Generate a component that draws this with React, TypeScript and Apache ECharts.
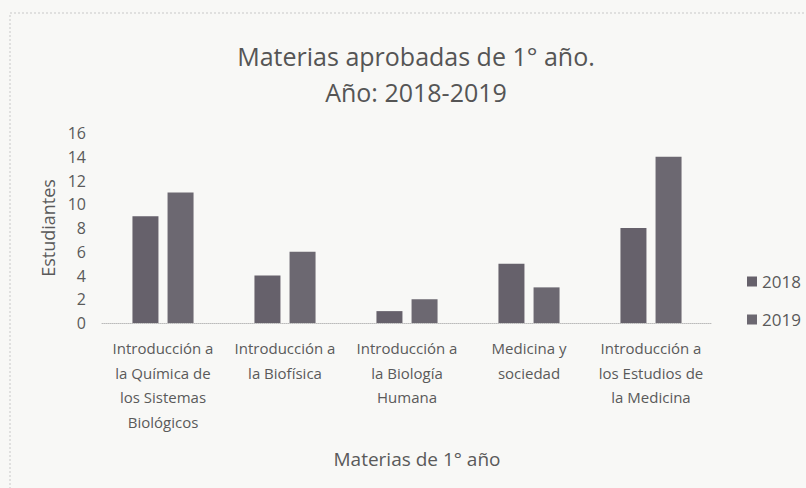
import React, { useEffect, useRef } from "react";
import * as echarts from "echarts";

const categories = [
  "Introducción a\nla Química de\nlos Sistemas\nBiológicos",
  "Introducción a\nla Biofísica",
  "Introducción a\nla Biología\nHumana",
  "Medicina y\nsociedad",
  "Introducción a\nlos Estudios de\nla Medicina",
];
const values2018 = [9, 4, 1, 5, 8];
const values2019 = [11, 6, 2, 3, 14];
const seriesNames = ["2018", "2019"];
const titleLines = ["Materias aprobadas de 1° año.", "Año: 2018-2019"];
const xAxisName = "Materias de 1° año";
const yAxisName = "Estudiantes";

const FONT = "'Open Sans', Lato, sans-serif";
const TEXT = "#5a5a5a";

export default function App() {
  const ref = useRef<HTMLDivElement>(null);
  useEffect(() => {
    if (!ref.current) return;
    const chart = echarts.init(ref.current, null, { renderer: "svg" });
    chart.setOption({
      animation: false,
      backgroundColor: "#f8f8f6",
      textStyle: { fontFamily: FONT, color: TEXT },
      title: {
        text: titleLines.join("\n"),
        left: 411,
        textAlign: "center",
        top: 33,
        textStyle: { fontSize: 25, fontWeight: "normal", color: "#555", lineHeight: 36, fontFamily: FONT },
      },
      legend: {
        orient: "vertical",
        left: 742,
        top: 268,
        itemWidth: 10,
        itemHeight: 10,
        itemGap: 21,
        icon: "rect",
        textStyle: { fontSize: 17, color: TEXT, fontFamily: FONT },
        data: seriesNames,
      },
      grid: { left: 102, right: 94, top: 133, bottom: 165, containLabel: false },
      xAxis: {
        type: "category",
        data: categories,
        name: xAxisName,
        nameLocation: "middle",
        nameGap: 126,
        nameTextStyle: { fontSize: 19, color: TEXT, fontFamily: FONT, padding: [0, 0, 0, 20] },
        axisLine: { lineStyle: { color: "#bbb", type: "dotted", width: 1 } },
        axisTick: { show: false },
        axisLabel: { fontSize: 15, lineHeight: 24.5, margin: 13, color: TEXT, interval: 0, fontFamily: FONT },
      },
      yAxis: {
        type: "value",
        min: 0,
        max: 16,
        interval: 2,
        name: yAxisName,
        nameLocation: "middle",
        nameRotate: 90,
        nameGap: 37,
        nameTextStyle: { fontSize: 18, color: TEXT, fontFamily: FONT },
        axisLine: { show: false },
        axisTick: { show: false },
        splitLine: { show: false },
        axisLabel: { fontSize: 16, color: TEXT, margin: 16, fontFamily: FONT },
      },
      graphic: [
        {
          type: "rect",
          shape: { x: 10, y: 13, width: 820, height: 500 },
          style: { fill: "none", stroke: "#c8c8c8", lineWidth: 1, lineDash: [2, 2] },
          silent: true,
        },
      ],
      series: [
        {
          name: seriesNames[0],
          type: "bar",
          data: values2018,
          barWidth: 26,
          barGap: "35%",
          itemStyle: { color: "#66616b" },
        },
        {
          name: seriesNames[1],
          type: "bar",
          data: values2019,
          barWidth: 26,
          itemStyle: { color: "#6c6871" },
        },
      ],
    });
    return () => chart.dispose();
  }, []);
  return <div ref={ref} style={{ width: 806, height: 488, position: "absolute", left: 0, top: 0 }} />;
}
